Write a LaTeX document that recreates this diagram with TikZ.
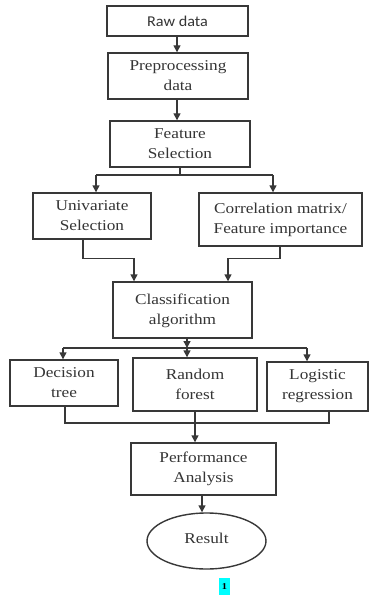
\documentclass[tikz,border=0pt]{standalone}
\usepackage{fontspec}
\setmainfont[FakeStretch=1.15]{Liberation Serif}
\newfontfamily\rawfont[FakeStretch=1.08]{Carlito}
\usetikzlibrary{arrows.meta,shapes.geometric,calc}
\definecolor{ink}{HTML}{383838}
\definecolor{txt}{HTML}{353535}
\definecolor{marker}{RGB}{0,255,255}
\begin{document}
\begin{tikzpicture}[x=1pt,y=-1pt,
  box/.style={draw=ink, line width=1.4pt, rectangle, inner sep=0pt, align=center,
    text=txt, font=\fontsize{15}{20}\selectfont},
  oval/.style={box, ellipse},
  link/.style={draw=ink, line width=1.4pt},
  arr/.style={link, -{Triangle[width=7pt,length=7pt]}}]
  \useasboundingbox[fill=white] (0,0) rectangle (370,596);

  % process boxes
  \node[box, minimum width=141pt, minimum height=30pt, font=\rawfont\fontsize{15}{20}\selectfont] (raw) at (177.5,21) {Raw data};
  \node[box, minimum width=140pt, minimum height=46pt] (pre) at (178,76) {Preprocessing\\data};
  \node[box, minimum width=140pt, minimum height=46pt] (fs) at (180,144) {Feature\\Selection};
  \node[box, minimum width=118pt, minimum height=46pt] (uni) at (92,216) {Univariate\\Selection};
  \node[box, minimum width=163pt, minimum height=53pt] (cor) at (280.5,219.5) {Correlation matrix/\\Feature importance};
  \node[box, minimum width=139pt, minimum height=56pt] (cls) at (182.5,310) {\raisebox{3pt}{\begin{tabular}{@{}c@{}}Classification\\algorithm\end{tabular}}};
  \node[box, minimum width=108pt, minimum height=46pt] (dt) at (64,383) {Decision\\tree};
  \node[box, minimum width=124pt, minimum height=53pt] (rf) at (195,384.5) {Random\\forest};
  \node[box, minimum width=101pt, minimum height=49pt] (lr) at (317.5,386.5) {Logistic\\regression};
  \node[box, minimum width=145pt, minimum height=52pt] (perf) at (203.5,469) {Performance\\Analysis};
  \node[oval, minimum width=119pt, minimum height=56pt] (res) at (206.5,541) {\raisebox{6pt}{Result}};
  \node[fill=marker, inner sep=0pt, minimum width=11pt, minimum height=17pt,
    font=\bfseries\fontsize{9}{9}\selectfont] (pg) at (224.5,586.5) {1};

  % straight chain at the top
  \draw[arr] ([xshift=-0.5pt]raw.south) -- ([xshift=-0.5pt]raw.south |- pre.north);
  \draw[arr] ([xshift=-1pt]pre.south) -- ([xshift=-1pt]pre.south |- fs.north);

  % feature selection splits in two
  \coordinate (fj) at (180,175);
  \coordinate (fL) at (96,175);
  \coordinate (fR) at (273,175);
  \draw[link] (fs.south) -- (fj);
  \draw[link] (fL) -- (fR);
  \draw[arr] (fL) -- (fL |- uni.north);
  \draw[arr] (fR) -- (fR |- cor.north);

  % both selections feed the classifier
  \draw[arr] ([xshift=-9pt]uni.south) |- ([xshift=-48.5pt,yshift=23pt]cls.north) -- ([xshift=-48.5pt]cls.north);
  \draw[arr] ([xshift=-0.5pt]cor.south) |- ([xshift=45.5pt,yshift=23pt]cls.north) -- ([xshift=45.5pt]cls.north);

  % classifier fans out to three models
  \coordinate (cj) at (187,348);
  \coordinate (cL) at (63,348);
  \coordinate (cR) at (307,348);
  \draw[arr] ([xshift=4.5pt]cls.south) -- (cj);
  \draw[link] (cL) -- (cR);
  \draw[arr] (cL) -- (cL |- dt.north);
  \draw[arr] (cj) -- (cj |- rf.north);
  \draw[arr] (cR) -- (cR |- lr.north);

  % models merge into the analysis
  \coordinate (bL) at (65,423);
  \coordinate (bM) at (195,423);
  \coordinate (bR) at (329,423);
  \draw[link] (bL |- dt.south) -- (bL) -- (bR) -- (bR |- lr.south);
  \draw[arr] (bM |- rf.south) -- (bM |- perf.north);

  \draw[arr] ([xshift=-1.5pt]perf.south) -- ([xshift=-1.5pt]perf.south |- res.north);
\end{tikzpicture}
\end{document}
